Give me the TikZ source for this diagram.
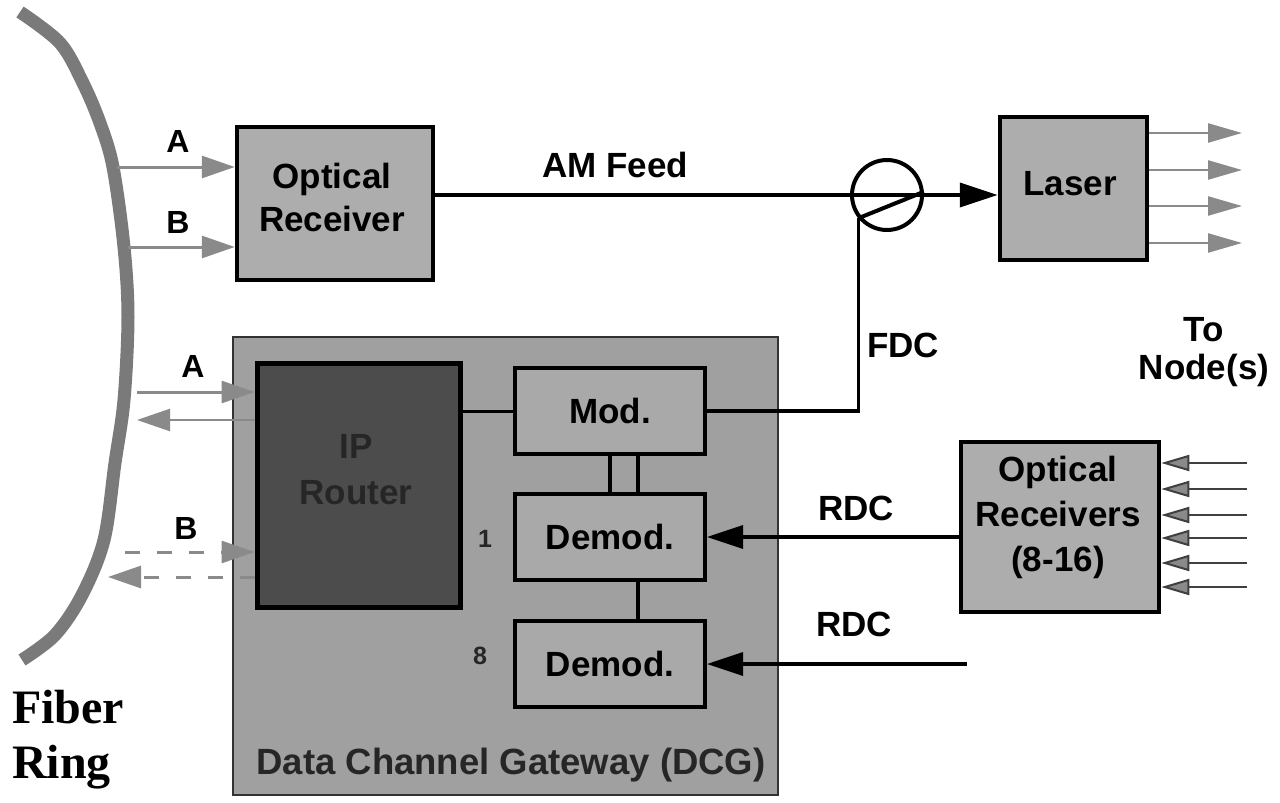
\documentclass[tikz,border=0pt]{standalone}
\usepackage{fontspec}
\setmainfont{Liberation Sans}
\newfontfamily\ringfont{Liberation Serif}
\usetikzlibrary{arrows.meta,calc}
\definecolor{boxgray}{HTML}{ADADAD}
\definecolor{dcggray}{HTML}{A0A0A0}
\definecolor{modgray}{HTML}{A9A9A9}
\definecolor{routergray}{HTML}{4C4C4C}
\definecolor{arrowgray}{HTML}{8A8A8A}
\definecolor{ringgray}{HTML}{7A7A7A}
\definecolor{routertext}{HTML}{262626}
\begin{document}
\begin{tikzpicture}[x=1pt,y=-1pt,
  box/.style={draw=black, line width=4.5pt, fill=boxgray, rectangle, inner sep=0pt},
  modbox/.style={draw=black, line width=4pt, fill=modgray, rectangle, inner sep=0pt,
    minimum width=190pt, minimum height=86pt, font=\bfseries\fontsize{35}{40}\selectfont},
  bigtext/.style={font=\bfseries\fontsize{35}{43}\selectfont, align=center, inner sep=0pt},
  lbl/.style={font=\bfseries\fontsize{35}{40}\selectfont, inner sep=0pt},
  abl/.style={font=\bfseries\fontsize{32}{36}\selectfont, inner sep=0pt},
  grayarrow/.style={draw=arrowgray, line width=3pt, -{Triangle[length=33pt,width=22pt]}, arrowgray},
  outarrow/.style={draw=arrowgray, line width=2.5pt, -{Triangle[length=34pt,width=19pt]}, arrowgray},
  inarrow/.style={draw=black!75, line width=2pt, -{Triangle[length=28pt,width=16pt,fill=arrowgray]}},
  blackarrow/.style={draw=black, line width=3.5pt, -{Triangle[length=36pt,width=23pt]}},
  dashline/.style={dash pattern=on 15pt off 17pt}
]
\path[use as bounding box] (0,0) rectangle (1280,803);

% fiber ring
\draw[ringgray, line width=13pt] plot[smooth, tension=0.55] coordinates
  {(20,12) (60,43) (83,83) (100,123) (113,167) (124,247) (128,317) (124,400) (115,463) (104,540) (82,595) (55,635) (22,660)};
\coordinate (ringA) at (117,167);
\coordinate (ringB) at (128,247);
\node[font=\ringfont\bfseries\fontsize{48}{55}\selectfont, align=left, anchor=north west, inner sep=0pt] (fiber) at (12,690) {Fiber\\Ring};

% optical receiver
\node[box, minimum width=196pt, minimum height=153pt] (orx) at (335,203.5) {};
\node[bigtext] (orxt) at (332,197) {Optical\\Receiver};
\draw[grayarrow] (ringA) -- (ringA -| orx.west);
\draw[grayarrow] (ringB) -- (ringB -| orx.west);
\node[abl] (la1) at (178,141) {A};
\node[abl] (lb1) at (178,222) {B};

% laser and circulator
\node[box, minimum width=147pt, minimum height=143pt] (las) at (1073.5,188.5) {};
\node[bigtext] (last) at (1070,184) {Laser};
\node[circle, draw=black, line width=4pt, minimum size=70pt, inner sep=0pt] (circ) at (887,195) {};
\draw[line width=4pt, -{Triangle[length=38pt,width=24pt]}] (orx.east |- circ.center) -- (las.west |- circ.center);
\draw[line width=4pt] (circ.219) -- (circ.5);
\node[lbl] (amfeed) at (615,165) {AM Feed};
\foreach \y [count=\i] in {133,170,206,243} {
  \coordinate (out\i) at (1242,\y);
  \draw[outarrow] (las.east |- out\i) -- (out\i);
}
\node[lbl, align=center, font=\bfseries\fontsize{35}{38}\selectfont] (tonode) at (1204,352) {To\\Node(s)};

% data channel gateway
\node[draw=black!80, line width=2pt, fill=dcggray, minimum width=545pt, minimum height=458pt, inner sep=0pt] (dcg) at (505.5,566) {};
\node[font=\bfseries\fontsize{36.5}{40}\selectfont, text=black!85, inner sep=0pt] (dcgt) at (511,765) {Data Channel Gateway (DCG)};

% IP router
\node[draw=black, line width=5pt, fill=routergray, minimum width=203pt, minimum height=244pt, inner sep=0pt] (router) at (358.5,485) {};
\node[bigtext, text=routertext, font=\bfseries\fontsize{35}{46}\selectfont] (routert) at (356,470) {IP\\Router};
\coordinate (rAin) at (137,392);
\coordinate (rAout) at (137,420);
\coordinate (rBin) at (125,552);
\coordinate (rBout) at (108,577);
\draw[grayarrow] (rAin) -- (rAin -| router.west);
\draw[grayarrow, line width=2.5pt] (rAout -| router.west) -- (rAout);
\draw[grayarrow, dashline] (rBin) -- (rBin -| router.west);
\draw[grayarrow, dashline] (rBout -| router.west) -- (rBout);
\node[abl] (la2) at (193,366) {A};
\node[abl] (lb2) at (186,528) {B};

% mod / demod
\node[modbox] (mod) at (610,411) {Mod.};
\node[modbox] (demod1) at (610,537) {Demod.};
\node[modbox] (demod8) at (610,664) {Demod.};
\draw[line width=3pt] (mod.west -| router.east) -- (mod.west);
\draw[line width=4pt] (mod.south) -- (demod1.north);
\draw[line width=4pt] ([xshift=28pt]mod.south) -- ([xshift=28pt]demod1.north);
\draw[line width=4pt] ([xshift=28pt]demod1.south) -- ([xshift=28pt]demod8.north);
\node[font=\bfseries\fontsize{25}{25}\selectfont, text=black!85, inner sep=0pt] (n1) at (485,539) {1};
\node[font=\bfseries\fontsize{25}{25}\selectfont, text=black!85, inner sep=0pt] (n8) at (480,656) {8};

% FDC
\draw[line width=3.5pt] (circ.219) |- (mod.east);
\node[lbl] (fdc) at (903,345) {FDC};

% optical receivers (8-16)
\node[box, minimum width=198pt, minimum height=170pt] (orxs) at (1060,527) {};
\node[bigtext, font=\bfseries\fontsize{35}{45}\selectfont] (orxst) at (1058,517) {Optical\\Receivers\\(8-16)};
\foreach \y [count=\i] in {463,489,515,538,563,587} {
  \coordinate (in\i) at (1247,\y);
  \draw[inarrow] (in\i) -- (in\i -| orxs.east);
}

% RDC
\draw[blackarrow] (orxs.west |- demod1.east) -- (demod1.east);
\coordinate (rdc2) at (967,664);
\draw[blackarrow] (rdc2) -- (demod8.east);
\node[lbl] (rdc1l) at (856,508) {RDC};
\node[lbl] (rdc2l) at (854,624) {RDC};
\end{tikzpicture}
\end{document}
